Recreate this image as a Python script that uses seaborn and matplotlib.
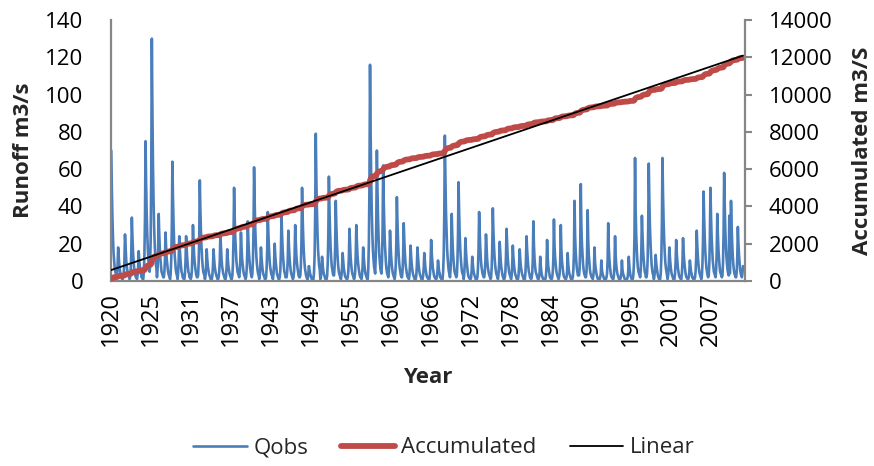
import numpy as np
import pandas as pd
import matplotlib
matplotlib.use("Agg")
import matplotlib.pyplot as plt
import seaborn as sns

# monthly runoff Qobs (m3/s) from Jan 1920, one line per flood season,
# peaks, recession months estimated
qobs_1920s = [
    70, 49, 34, 23, 15, 11, 7, 5, 4,
    1, 3, 8, 18, 13, 9, 6, 4, 3, 2, 1, 1,
    2, 5, 11, 25, 18, 12, 8, 6, 4, 3, 2, 1,
    2, 6, 15, 34, 24, 16, 11, 7, 5, 3, 2, 2,
    1, 3, 7, 16, 11, 8, 5, 4, 2, 2, 1, 1,
    5, 14, 34, 75, 53, 36, 25, 17, 11, 8, 5,
    8, 23, 59, 130, 91, 62, 43, 29, 20, 13, 9, 7,
    2, 6, 16, 36, 25, 17, 12, 8, 5, 4, 3, 2,
    2, 5, 12, 26, 18, 12, 9, 6, 4, 3, 2, 1,
    4, 12, 29, 64, 45, 31, 21, 14, 10, 6, 4, 3,
]
qobs_1930s = [
    1, 4, 11, 24, 17, 12, 8, 5, 4, 2, 2, 1,
    1, 4, 11, 24, 17, 12, 8, 5, 4, 2, 2, 1,
    2, 5, 14, 30, 21, 14, 10, 7, 5, 3, 2, 2,
    3, 10, 24, 54, 38, 26, 18, 12, 8, 5, 4, 3,
    1, 3, 8, 17, 12, 8, 6, 4, 3, 2, 1, 1,
    1, 3, 8, 17, 12, 8, 6, 4, 3, 2, 1, 1,
    2, 5, 11, 25, 18, 12, 8, 6, 4, 3, 2, 1,
    1, 3, 8, 17, 12, 8, 6, 4, 3, 2, 1, 1,
    3, 9, 23, 50, 35, 24, 17, 11, 8, 5, 4, 3,
    2, 5, 12, 26, 18, 12, 9, 6, 4, 3, 2, 1,
]
qobs_1940s = [
    2, 6, 14, 32, 22, 15, 11, 7, 5, 3, 2,
    4, 11, 27, 61, 43, 29, 20, 13, 9, 6, 4, 3,
    1, 3, 8, 18, 13, 9, 6, 4, 3, 2, 1, 1,
    2, 7, 17, 37, 26, 18, 12, 8, 6, 4, 3, 2,
    1, 4, 9, 20, 14, 10, 7, 4, 3, 2, 1, 1,
    2, 6, 16, 35, 25, 17, 12, 8, 5, 4, 2, 2,
    2, 5, 12, 27, 19, 13, 9, 6, 4, 3, 2, 1,
    2, 5, 14, 30, 21, 14, 10, 7, 5, 3, 2, 2,
    3, 9, 22, 50, 35, 24, 16, 11, 7, 5, 3, 2,
    1, 1, 4, 8, 6, 4, 3, 2, 1, 1, 1, 1,
]
qobs_1950s = [
    5, 14, 36, 79, 55, 38, 26, 17, 12, 8, 6,
    1, 2, 6, 13, 9, 6, 4, 3, 2, 1, 1, 1,
    3, 10, 25, 56, 39, 27, 18, 12, 8, 6, 4, 3,
    3, 8, 19, 43, 30, 21, 14, 9, 6, 4, 3, 2,
    1, 3, 7, 15, 11, 7, 5, 3, 2, 2, 1, 1,
    2, 5, 13, 28, 20, 13, 9, 6, 4, 3, 2, 1,
    2, 5, 14, 30, 21, 14, 10, 7, 5, 3, 2, 2,
    1, 3, 8, 18, 13, 9, 6, 4, 3, 2, 1, 1,
    7, 21, 52, 116, 81, 56, 38, 26, 17, 12, 8, 6,
    4, 13, 32, 70, 49, 34, 23, 15, 11, 7, 5,
]
qobs_1960s = [
    4, 11, 28, 62, 43, 30, 20, 14, 9, 6, 4, 3,
    2, 5, 12, 27, 19, 13, 9, 6, 4, 3, 2, 1,
    3, 8, 20, 45, 32, 22, 15, 10, 7, 5, 3, 2,
    2, 6, 14, 31, 22, 15, 10, 7, 5, 3, 2, 2,
    1, 3, 9, 19, 13, 9, 6, 4, 3, 2, 1, 1,
    1, 3, 8, 18, 13, 9, 6, 4, 3, 2, 1, 1,
    1, 3, 7, 15, 11, 7, 5, 3, 2, 2, 1, 1,
    1, 4, 10, 22, 15, 11, 7, 5, 3, 2, 2, 1,
    1, 2, 5, 11, 8, 5, 4, 2, 2, 1, 1, 1,
    5, 14, 35, 78, 55, 37, 26, 17, 12, 8, 5, 4,
]
qobs_1970s = [
    2, 6, 16, 36, 25, 17, 12, 8, 5, 4, 3, 2,
    3, 10, 24, 53, 37, 25, 17, 12, 8, 5, 4, 3,
    1, 4, 10, 23, 16, 11, 8, 5, 3, 2, 2, 1,
    1, 2, 6, 13, 9, 6, 4, 3, 2, 1, 1, 1,
    2, 7, 17, 37, 26, 18, 12, 8, 6, 4, 3, 2,
    2, 5, 11, 25, 18, 12, 8, 6, 4, 3, 2, 1,
    2, 7, 18, 39, 27, 19, 13, 9, 6, 4, 3, 2,
    1, 4, 9, 21, 15, 10, 7, 5, 3, 2, 1, 1,
    2, 5, 13, 28, 20, 13, 9, 6, 4, 3, 2,
    1, 3, 9, 19, 13, 9, 6, 4, 3, 2, 1, 1,
]
qobs_1980s = [
    1, 3, 8, 17, 12, 8, 6, 4, 3, 2, 1, 1,
    1, 4, 11, 24, 17, 12, 8, 5, 4, 2, 2, 1,
    2, 4, 12, 32, 19, 12, 8, 5, 4, 3, 2, 1,
    1, 2, 5, 13, 8, 5, 3, 2, 1, 1, 1, 1,
    1, 3, 8, 22, 13, 8, 6, 4, 2, 2, 1, 1,
    2, 5, 12, 33, 19, 13, 9, 6, 4, 3, 2, 1,
    2, 4, 11, 30, 17, 11, 8, 5, 3, 2, 2, 1,
    1, 2, 5, 15, 9, 6, 4, 3, 2, 1, 1, 1,
    2, 6, 15, 43, 25, 16, 11, 7, 5, 3, 3,
    3, 7, 19, 52, 30, 20, 14, 9, 6, 4, 3, 2,
]
qobs_1990s = [
    2, 5, 14, 38, 22, 14, 10, 6, 4, 3, 2, 2,
    1, 3, 6, 18, 10, 7, 5, 3, 2, 1, 1, 1,
    1, 2, 4, 11, 6, 4, 3, 2, 1, 1, 1, 1,
    2, 4, 11, 31, 18, 12, 8, 5, 3, 2, 2, 1,
    1, 3, 9, 24, 14, 9, 6, 4, 3, 2, 1, 1,
    1, 2, 4, 11, 6, 4, 3, 2, 1, 1, 1, 1,
    1, 2, 5, 13, 8, 5, 3, 2, 1, 1, 1,
    3, 9, 24, 66, 38, 25, 17, 11, 7, 5, 4, 3,
    2, 6, 16, 35, 25, 17, 12, 8, 5, 4, 2, 2,
    4, 11, 28, 63, 44, 30, 21, 14, 9, 6, 4, 3,
]
qobs_2000s = [
    1, 3, 6, 14, 10, 7, 5, 3, 2, 1, 1, 1,
    4, 12, 30, 66, 46, 32, 22, 15, 10, 7, 5, 3,
    1, 3, 8, 18, 13, 9, 6, 4, 3, 2, 1, 1,
    1, 4, 10, 22, 15, 11, 7, 5, 3, 2, 2, 1,
    1, 4, 10, 23, 16, 11, 8, 5, 3, 2, 2, 1,
    1, 2, 5, 11, 8, 5, 4, 2, 2, 1, 1, 1,
    2, 5, 12, 27, 19, 13, 9, 6, 4, 3, 2, 1,
    3, 9, 22, 48, 34, 23, 16, 11, 7, 5, 3, 2,
    3, 9, 23, 50, 35, 24, 17, 11, 8, 5, 4, 3,
    2, 6, 16, 36, 25, 17, 12, 8, 5, 4, 3, 2,
]
qobs_2010s = [
    3, 10, 26, 58, 41, 28, 19, 13, 9, 6, 4, 3,
    35, 4, 15, 43, 30, 21, 14, 9, 6, 4, 3, 2,
    2, 5, 13, 29, 20, 14, 10, 6, 4, 3, 2, 4, 8,
]

year_labels = ["1920", "1925", "1931", "1937", "1943", "1949", "1955", "1960",
               "1966", "1972", "1978", "1984", "1990", "1995", "2001", "2007"]
label_step = 70  # months between the year labels on the category axis

qobs = (qobs_1920s + qobs_1930s + qobs_1940s + qobs_1950s + qobs_1960s
        + qobs_1970s + qobs_1980s + qobs_1990s + qobs_2000s + qobs_2010s)

df = pd.DataFrame({"month": np.arange(len(qobs)), "Qobs": qobs})
df["Accumulated"] = df["Qobs"].cumsum()
slope, icept = np.polyfit(df["month"] + 1, df["Accumulated"], 1)
df["Linear"] = icept + slope * (df["month"] + 1)

sns.set_theme(style="white")
plt.rcParams["font.family"] = ["Open Sans", "DejaVu Sans"]

blue = "#4A7EBB"
red = "#BE4B48"
grey = "#868686"

fig = plt.figure(figsize=(8.74, 4.66), dpi=100)
ax = fig.add_axes([0.127, 0.397, 0.7254, 0.560])
ax2 = ax.twinx()

sns.lineplot(data=df, x="month", y="Qobs", ax=ax, color=blue, linewidth=1.9,
             estimator=None, errorbar=None, label="Qobs", legend=False)
sns.lineplot(data=df, x="month", y="Accumulated", ax=ax2, color=red, linewidth=4.2,
             estimator=None, errorbar=None, label="Accumulated", legend=False)
sns.lineplot(data=df, x="month", y="Linear", ax=ax2, color="black", linewidth=1.3,
             estimator=None, errorbar=None, label="Linear", legend=False)

ax.set_xlim(-0.5, len(df) + 2.5)
ax.set_ylim(0, 140)
ax.set_yticks(range(0, 141, 20))
ax2.set_ylim(0, 14000)
ax2.set_yticks(range(0, 14001, 2000))
ax.set_xticks(np.arange(len(year_labels)) * label_step)
ax.set_xticklabels(year_labels, rotation=90)

ax.tick_params(axis="y", length=0, pad=20, labelsize=16, colors="black")
ax.tick_params(axis="x", length=0, pad=8, labelsize=17, colors="black")
ax2.tick_params(axis="y", length=5, width=1.5, color=grey, pad=12, labelsize=16,
                labelcolor="black")

for s in ["top", "right"]:
    ax.spines[s].set_visible(False)
for s in ["left", "bottom"]:
    ax.spines[s].set_color(grey)
    ax.spines[s].set_linewidth(1.6)
for s in ["top", "left", "bottom"]:
    ax2.spines[s].set_visible(False)
ax2.spines["right"].set_color(grey)
ax2.spines["right"].set_linewidth(1.6)
ax.grid(False)
ax2.grid(False)

ax.set_xlabel("Year", fontsize=16, fontweight="bold")
ax.xaxis.set_label_coords(0.5, -0.33)
ax.set_ylabel("Runoff m3/s", fontsize=16, fontweight="bold")
ax.yaxis.set_label_coords(-0.122, 0.5)
ax2.set_ylabel("Accumulated m3/S", fontsize=16, fontweight="bold")
ax2.yaxis.set_label_coords(1.168, 0.5)

h1, l1 = ax.get_legend_handles_labels()
h2, l2 = ax2.get_legend_handles_labels()
fig.legend(h1 + h2, l1 + l2, loc="center", bbox_to_anchor=(0.508, 0.039), ncol=3,
           frameon=False, fontsize=16, handlelength=2.4, handletextpad=0.3,
           columnspacing=1.5)

fig.savefig("out.png", dpi=100)
